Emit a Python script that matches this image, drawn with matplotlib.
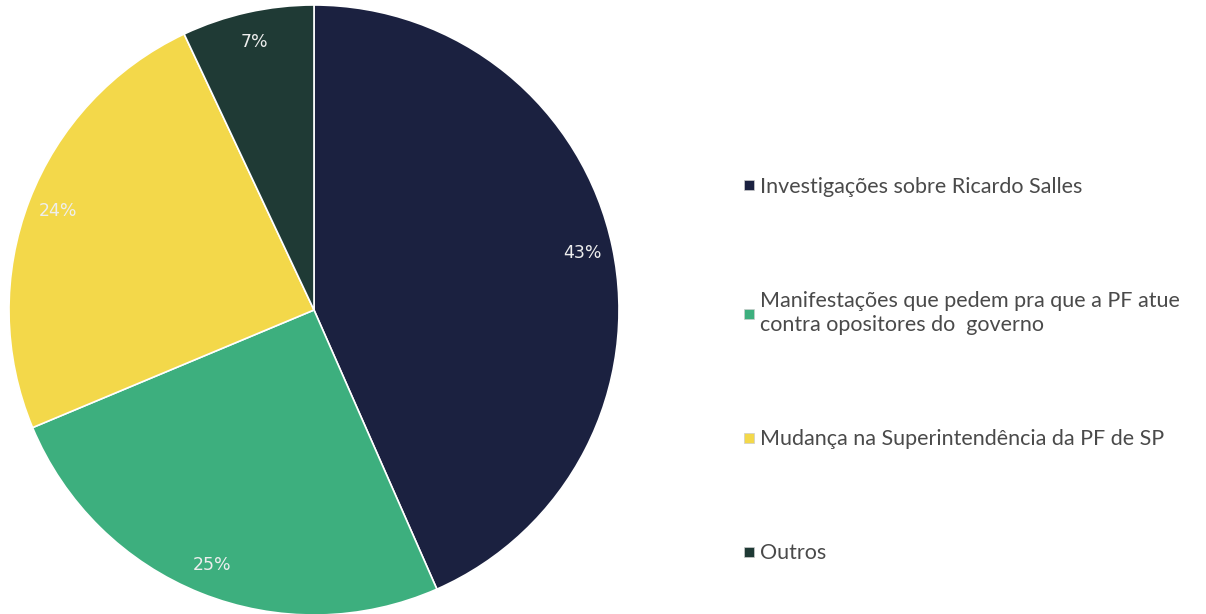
import matplotlib
matplotlib.use("Agg")
import matplotlib.pyplot as plt
from matplotlib.lines import Line2D

# ── Data ─────────────────────────────────────────────────────────────
labels = [
    "Investigações sobre Ricardo Salles",
    "Manifestações que pedem pra que a PF atue\ncontra opositores do  governo",
    "Mudança na Superintendência da PF de SP",
    "Outros",
]
values = [43.4, 25.3, 24.3, 7.0]
colors = ["#1b2140", "#3daf7e", "#f3d84a", "#1f3a35"]

plt.rcParams["font.family"] = ["Lato", "DejaVu Sans"]

fig = plt.figure(figsize=(12.06, 6.14), dpi=100)
ax = fig.add_axes([9 / 1206, -1 / 614, 610 / 1206, 610 / 614])

wedges, texts, autotexts = ax.pie(
    values,
    colors=colors,
    startangle=90,
    counterclock=False,
    autopct="%1.0f%%",
    pctdistance=0.9,
    wedgeprops=dict(edgecolor="white", linewidth=1.2),
    textprops=dict(color="#eeeeee", fontsize=12.5, family="DejaVu Sans"),
)
ax.set_xlim(-1, 1)
ax.set_ylim(-1, 1)
ax.set_aspect("equal")

# ── Legend ───────────────────────────────────────────────────────────
handles = [Line2D([], [], marker="s", linestyle="none", markersize=7,
                  markerfacecolor=c, markeredgecolor="#cccccc",
                  markeredgewidth=0.5) for c in colors]
leg = fig.legend(handles, labels, loc="center left",
                 bbox_to_anchor=(733 / 1206, 1 - 370 / 614),
                 frameon=False, fontsize=15.5, labelspacing=4.36,
                 handlelength=0.45, handletextpad=0.3, borderpad=0)
for t in leg.get_texts():
    t.set_color("#4a4a4a")
    t.set_linespacing(1.3)

fig.savefig("out.png", dpi=100)
